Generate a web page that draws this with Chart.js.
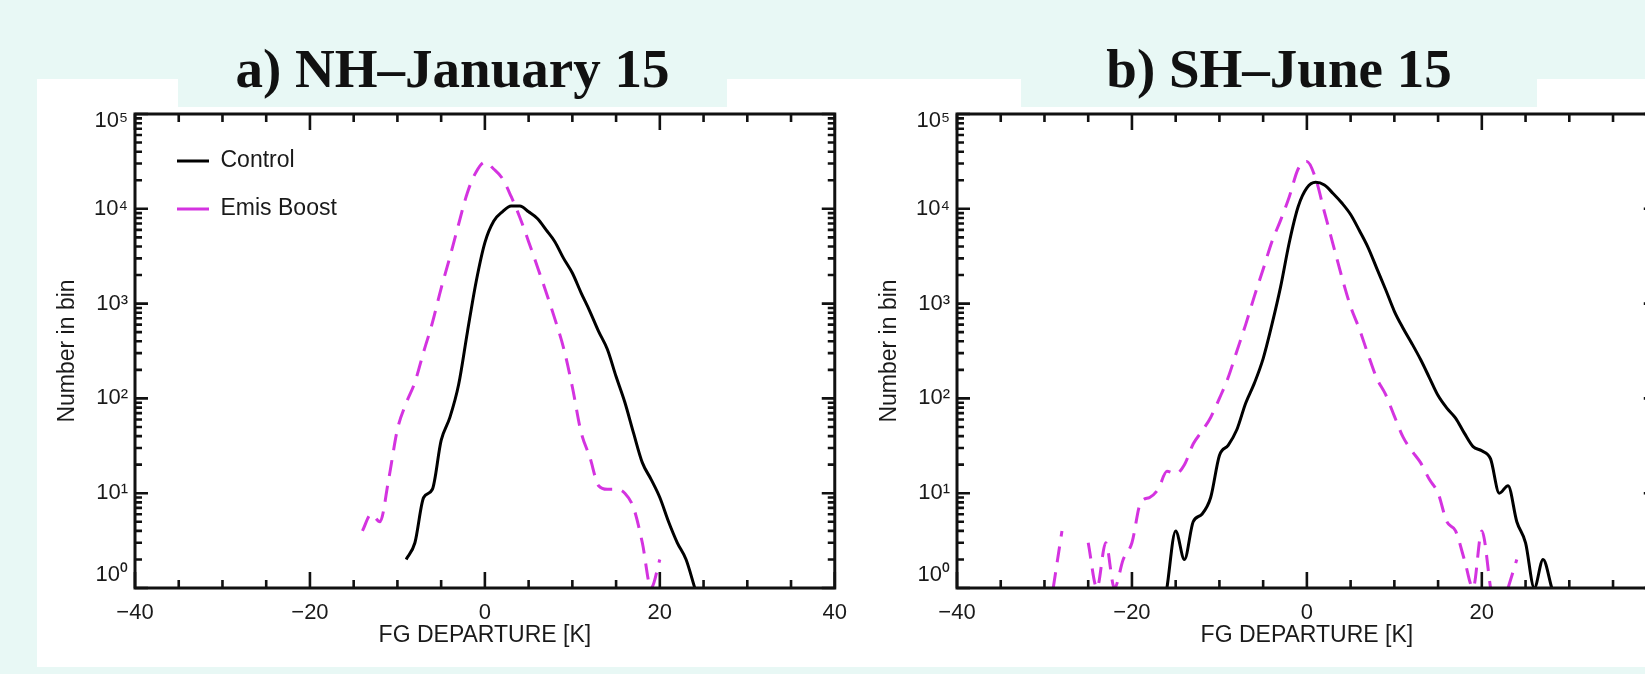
<!DOCTYPE html>
<html>
<head>
  <title>FG departure histograms</title>
  <script src="https://cdn.jsdelivr.net/npm/chart.js"></script>
  <style>
    body { margin: 0; width: 1645px; height: 674px; overflow: hidden; position: relative; background: #e8f8f5; font-family: "Liberation Sans", Arial, sans-serif; }
    #paper { position: absolute; left: 37px; top: 79px; width: 1608px; height: 588px; background: #fff; }
    .tbox { position: absolute; top: 0; height: 107px; background: #e8f8f5; }
    .tbox h1 { margin: 0; position: absolute; left: 0; right: 0; top: 41px; font: bold 55px/55px "Liberation Serif", serif; text-align: center; color: #111; white-space: nowrap; }
    canvas { position: absolute; top: 90px; }
    #nh { left: 40px; }
    #sh { left: 862px; }
  </style>
</head>
<body>

<div id="paper"></div>
<div class="tbox" style="left:178px; width:549px;"><h1>a) NH–January 15</h1></div>
<div class="tbox" style="left:1021px; width:516px;"><h1>b) SH–June 15</h1></div>

<canvas id="nh" width="819" height="568"></canvas>
<canvas id="sh" width="819" height="568"></canvas>

<script>
  // 1 K bins, counts (null = empty bin)
  const nhBins = [-14,-13,-12,-11,-10,-9,-8,-7,-6,-5,-4,-3,-2,-1,0,1,2,3,4,5,6,7,8,9,10,
                  11,12,13,14,15,16,17,18,19,20,21,22,23,24];
  const nhControl = [null,null,null,null,null,
                     2,3,9,11,36,63,140,500,1700,4400,
                     7400,9300,10700,10700,9300,7900,6000,4500,3000,2100,
                     1300,830,510,330,170,91,43,21,14,9,
                     5,3,2,1];
  const nhEmis = [4,6,5,14,47,89,148,310,630,1450,
                  3100,6900,14800,24500,31000,26300,20900,13500,8100,4500,
                  2450,1320,690,340,132,44,24,12,11,11,
                  10,7,3,1,2,
                  null,null,null,null];

  const shBins = [-29,-28,-27,-26,-25,-24,-23,-22,-21,-20,-19,-18,-17,-16,-15,-14,-13,-12,-11,-10,
                  -9,-8,-7,-6,-5,-4,-3,-2,-1,0,1,2,3,4,5,6,7,8,9,10,
                  11,12,13,14,15,16,17,18,19,20,21,22,23,24,25,26,27,28];
  const shControl = [null,null,null,null,null,null,null,null,null,null,null,null,null,
                     1,4,2,5,6,9,25,32,47,89,
                     145,263,600,1510,4470,10500,16600,19000,17800,14500,
                     11500,8700,5900,3900,2340,1410,830,550,380,257,
                     166,107,79,62,43,31,28,23,10,12,
                     5,3,1,2,1];
  const shEmis = [1,4,null,null,3,1,3,1,2,3,
                  8,9,11,17,16,20,33,45,63,100,
                  166,316,600,1200,2300,4500,7600,13500,26300,31600,
                  20900,9300,4200,1900,930,540,290,162,110,65,
                  39,28,21,14,10,5,4,2,1,4,
                  1,null,1,2,null,
                  null,null,null];

  const seriesNames = ['Control', 'Emis Boost'];
  const xTickLabels = [-40, -20, 0, 20, 40];
  const yDecades = [1, 10, 100, 1000, 10000, 100000];
  const supers = ['⁰', '¹', '²', '³', '⁴', '⁵'];

  const MAGENTA = '#d433e0';
  const INK = '#1a1a1a';

  Chart.defaults.font.family = '"Liberation Sans", Arial, sans-serif';
  Chart.defaults.color = INK;

  // minor log ticks 1..9 x each decade
  const yTickValues = [];
  yDecades.forEach((d, i) => {
    if (i === yDecades.length - 1) { yTickValues.push(d); return; }
    for (let m = 1; m < 10; m++) yTickValues.push(m * d);
  });

  // inward tick marks on all four sides + box frame
  const frameTicks = {
    id: 'frameTicks',
    afterDatasetsDraw(chart) {
      const { ctx, chartArea: a, scales: { x, y } } = chart;
      ctx.save();
      ctx.strokeStyle = '#111';
      ctx.lineWidth = 2.6;
      ctx.beginPath();
      x.ticks.forEach(t => {
        const px = x.getPixelForValue(t.value);
        const len = xTickLabels.includes(t.value) ? 16 : 8;
        ctx.moveTo(px, a.bottom); ctx.lineTo(px, a.bottom - len);
        ctx.moveTo(px, a.top); ctx.lineTo(px, a.top + len);
      });
      y.ticks.forEach(t => {
        const py = y.getPixelForValue(t.value);
        const len = yDecades.includes(t.value) ? 13 : 7;
        ctx.moveTo(a.left, py); ctx.lineTo(a.left + len, py);
        ctx.moveTo(a.right, py); ctx.lineTo(a.right - len, py);
      });
      ctx.stroke();
      ctx.lineWidth = 3;
      ctx.strokeRect(a.left, a.top, a.right - a.left, a.bottom - a.top);
      ctx.restore();
    }
  };

  // put the legend a little inside the top-left corner of the plot
  const legendSpot = {
    id: 'legendSpot',
    afterLayout(chart) {
      if (!chart.legend || !chart.options.plugins.legend.display) return;
      chart.legend.left = chart.chartArea.left + 17;
      chart.legend.top = chart.chartArea.top + 10.5;
    }
  };

  function fmtX(v) {
    return v < 0 ? '\u2212' + Math.abs(v) : String(v);
  }

  function makeChart(id, bins, control, emis, withLegend) {
    const pts = vals => bins.map((b, i) => ({ x: b, y: vals[i] }));
    return new Chart(document.getElementById(id), {
      type: 'line',
      data: {
        datasets: [
          { label: seriesNames[0], data: pts(control), borderColor: '#000', backgroundColor: '#000',
            borderWidth: 3, pointRadius: 0, cubicInterpolationMode: 'monotone' },
          { label: seriesNames[1], data: pts(emis), borderColor: MAGENTA, backgroundColor: MAGENTA,
            borderWidth: 3, borderDash: [16, 10], pointRadius: 0, cubicInterpolationMode: 'monotone' }
        ]
      },
      options: {
        responsive: false,
        animation: false,
        layout: { padding: { top: 24, right: 20, left: 0, bottom: 0 } },
        plugins: {
          tooltip: { enabled: false },
          legend: withLegend ? {
            display: true,
            position: 'chartArea',
            align: 'start',
            labels: {
              usePointStyle: true,
              pointStyle: 'line',
              pointStyleWidth: 32,
              padding: 25,
              color: INK,
              font: { size: 23 },
              generateLabels: chart => Chart.defaults.plugins.legend.labels.generateLabels(chart).map(it => {
                if (it.lineDash && it.lineDash.length) it.lineDash = [17, 40];
                return it;
              })
            }
          } : { display: false }
        },
        scales: {
          x: {
            type: 'linear', min: -40, max: 40,
            grid: { display: false, drawTicks: false },
            border: { display: false },
            ticks: {
              stepSize: 5, autoSkip: false, maxRotation: 0, padding: 12, color: INK,
              font: { size: 22 },
              callback: v => xTickLabels.includes(v) ? fmtX(v) : ''
            },
            title: { display: true, text: 'FG DEPARTURE [K]', color: INK, font: { size: 23 }, padding: { top: 0, bottom: 9 } },
            afterFit: s => { s.height = 70; }
          },
          y: {
            type: 'logarithmic', min: 1, max: 100000,
            grid: { display: false, drawTicks: false },
            border: { display: false },
            afterBuildTicks: s => { s.ticks = yTickValues.map(v => ({ value: v })); },
            ticks: {
              autoSkip: false, padding: 7, color: INK,
              font: { size: 22, lineHeight: 0.6 },
              callback: v => {
                const k = yDecades.indexOf(v);
                if (k < 0) return '';
                const lbl = '10' + supers[k];
                if (k === 0) return [lbl, '', ''];
                if (k === yDecades.length - 1) return ['', lbl];
                return lbl;
              }
            },
            title: { display: true, text: 'Number in bin', color: INK, font: { size: 23 }, padding: { top: 14, bottom: 0 } },
            afterFit: s => { s.width = 95; }
          }
        }
      },
      plugins: [frameTicks, legendSpot]
    });
  }

  makeChart('nh', nhBins, nhControl, nhEmis, true);
  makeChart('sh', shBins, shControl, shEmis, false);
</script>

</body>
</html>
